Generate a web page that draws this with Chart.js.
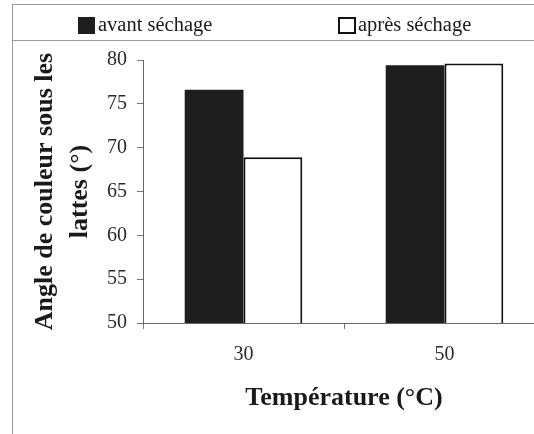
<!DOCTYPE html>
<html>
<head>
<meta charset="utf-8">
<script src="https://cdn.jsdelivr.net/npm/chart.js@4.4.0/dist/chart.umd.min.js"></script>
<style>
  html, body { margin: 0; padding: 0; background: #fff; overflow: hidden; }
  #wrap { width: 546px; height: 434px; }
</style>
</head>
<body>
<div id="wrap"><canvas id="c" width="546" height="434"></canvas></div>
<script>
const categories = ['30', '50'];
const avantSechage = [76.6, 79.4];
const apresSechage = [68.9, 79.6];
const seriesLabels = ['avant séchage', 'après séchage'];
const yTitle = ['Angle de couleur sous les', 'lattes (°)'];
const xTitle = 'Température (°C)';

const legendFrame = {
  id: 'legendFrame',
  afterDraw(chart) {
    const ctx = chart.ctx;
    ctx.save();
    ctx.strokeStyle = '#9a9a9a';
    ctx.lineWidth = 1;
    ctx.beginPath();
    ctx.moveTo(12, 4.5); ctx.lineTo(chart.width, 4.5);
    ctx.moveTo(12, 40.5); ctx.lineTo(chart.width, 40.5);
    ctx.moveTo(12.5, 4); ctx.lineTo(12.5, chart.height);
    ctx.stroke();
    const ds = chart.data.datasets;
    const pos = [{bx: 78, tx: 98}, {bx: 339, tx: 358}];
    ctx.font = '20.5px "Liberation Serif", "Times New Roman", serif';
    ctx.textBaseline = 'middle';
    ds.forEach((d, i) => {
      const p = pos[i];
      if (i === 0) {
        ctx.fillStyle = d.backgroundColor;
        ctx.fillRect(p.bx, 17, 17, 17);
      } else {
        ctx.fillStyle = '#fff';
        ctx.fillRect(p.bx, 18, 16, 15);
        ctx.strokeStyle = '#111';
        ctx.lineWidth = 2;
        ctx.strokeRect(p.bx, 18, 16, 15);
      }
      ctx.fillStyle = '#1a1a1a';
      ctx.textAlign = 'left';
      ctx.fillText(d.label, p.tx, 26);
    });
    ctx.restore();
  }
};

new Chart(document.getElementById('c'), {
  type: 'bar',
  data: {
    labels: categories,
    datasets: [
      { label: seriesLabels[0], data: avantSechage, backgroundColor: '#1e1e1e', borderColor: '#1e1e1e', borderWidth: 0 },
      { label: seriesLabels[1], data: apresSechage, backgroundColor: '#ffffff', borderColor: '#111111', borderWidth: 2, borderSkipped: 'bottom' }
    ]
  },
  options: {
    responsive: false,
    animation: false,
    events: [],
    layout: { padding: { top: 60, left: 12, right: 1, bottom: 0 } },
    categoryPercentage: 0.585,
    barPercentage: 1.0,
    plugins: { legend: { display: false }, tooltip: { enabled: false } },
    scales: {
      x: {
        grid: { display: true, drawOnChartArea: false, tickLength: 6, color: '#777' },
        border: { color: '#666', width: 1 },
        ticks: { color: '#2a2a2a', padding: 14, font: { family: '"Liberation Serif", "Times New Roman", serif', size: 20 } },
        title: { display: true, text: xTitle, color: '#1a1a1a', padding: { top: 0, bottom: 20 },
                 font: { family: '"Liberation Serif", "Times New Roman", serif', size: 26, weight: 'bold', lineHeight: 1.2 } },
        afterFit(s) { s.height = 111; }
      },
      y: {
        min: 50, max: 80,
        ticks: { stepSize: 5, color: '#2a2a2a', padding: 10, font: { family: '"Liberation Serif", "Times New Roman", serif', size: 20 } },
        grid: { display: true, drawOnChartArea: false, tickLength: 6, color: '#777' },
        border: { color: '#666', width: 1 },
        title: { display: true, text: yTitle, color: '#1a1a1a', padding: { top: 16, bottom: 0 },
                 font: { family: '"Liberation Serif", "Times New Roman", serif', size: 26, weight: 'bold', lineHeight: 1.35 } },
        afterFit(s) { s.width = 131; }
      }
    }
  },
  plugins: [legendFrame]
});
</script>
</body>
</html>
